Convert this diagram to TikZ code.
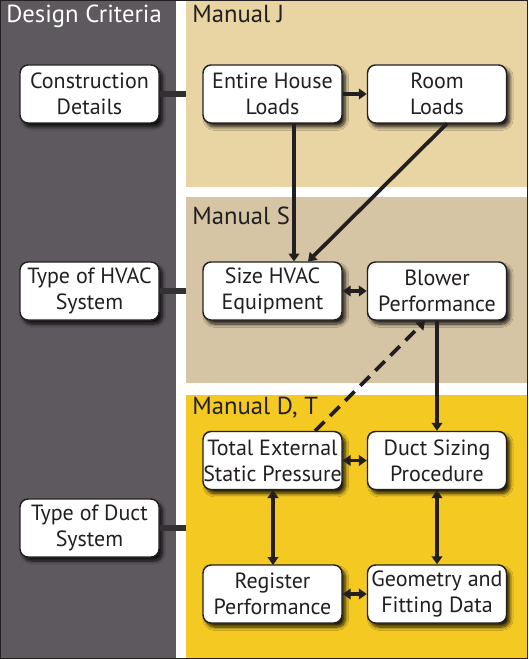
\documentclass[tikz,border=0pt]{standalone}
\usepackage{fontspec}
\setmainfont{PT Sans}
\usetikzlibrary{arrows.meta,shadows.blur}
\definecolor{critgray}{HTML}{5E595E}
\definecolor{panelJ}{HTML}{E9D5A3}
\definecolor{panelS}{HTML}{D5C5A5}
\definecolor{panelD}{HTML}{F3C922}
\definecolor{ink}{HTML}{231F20}
\definecolor{stubc}{HTML}{333033}
\tikzset{
  box/.style={draw=ink, line width=1.1pt, fill=white, rounded corners=6pt,
    minimum width=104.25pt, minimum height=43.5pt, inner sep=0pt,
    align=center, text=ink,
    font=\fontsize{16.5}{19.5}\selectfont,
    blur shadow={shadow xshift=2.5pt, shadow yshift=-3pt, shadow blur steps=8, shadow blur radius=2.5pt, shadow opacity=85}},
  panel/.style={inner sep=0pt, outer sep=0pt, anchor=north west},
  stub/.style={draw=stubc, line width=4.5pt},
  tip/.tip={Triangle[length=6pt,width=8pt]},
  arr/.style={draw=ink, line width=2.8pt, -tip},
  darr/.style={draw=ink, line width=2.8pt, tip-tip},
  ttl/.style={anchor=base west, inner sep=0pt, font=\fontsize{18.5}{22}\selectfont}
}
\begin{document}
\begin{tikzpicture}[x=0.75pt,y=-0.75pt]
\useasboundingbox (0,0) rectangle (528,659);
% background
\fill[white] (0,0) rectangle (528,659);
\fill[critgray] (0,0) rectangle (176,659);
\node[panel, fill=panelJ, minimum width=255.75pt, minimum height=140.25pt] (pJ) at (186,0) {};
\node[panel, fill=panelS, minimum width=255.75pt, minimum height=139.5pt] (pS) at (186,197) {};
\node[panel, fill=panelD, minimum width=255.75pt, minimum height=198pt] (pD) at (186,395) {};
\draw[ink, line width=1.4pt] (0.5,0.5) rectangle (527.5,658.5);
% titles
\node[ttl, text=white] (tC) at (6,23) {Design Criteria};
\node[ttl, text=ink] (tJ) at (192,23) {Manual J};
\node[ttl, text=ink] (tS) at (192,224) {Manual S};
\node[ttl, text=ink] (tD) at (192,414) {Manual D, T};
% boxes
\node[box] (cd) at (89.5,94) {Construction\\Details};
\node[box] (eh) at (272.5,94) {Entire House\\Loads};
\node[box] (rl) at (437,94) {Room\\Loads};
\node[box] (th) at (89.5,291) {Type of HVAC\\System};
\node[box] (sh) at (272.5,291) {Size HVAC\\Equipment};
\node[box] (bp) at (437,291) {Blower\\Performance};
\node[box] (te) at (272.5,460.5) {Total External\\Static Pressure};
\node[box] (ds) at (437,460.5) {Duct Sizing\\Procedure};
\node[box] (td) at (89.5,528) {Type of Duct\\System};
\node[box] (rp) at (272.5,594) {Register\\Performance};
\node[box] (gf) at (437,594) {Geometry and\\Fitting Data};
% stubs
\coordinate (sJ) at (cd.east -| pJ.west);
\coordinate (sS) at (th.east -| pS.west);
\coordinate (sD) at (td.east -| pD.west);
\draw[stub] (cd.east) -- (sJ);
\draw[stub] (th.east) -- (sS);
\draw[stub] (td.east) -- (sD);
% arrows
\draw[arr] (eh.east) -- (rl.west);
\coordinate (ehb) at (294,123.5);
\coordinate (sht1) at (294,261.5);
\draw[arr] (ehb) -- (sht1);
\coordinate (rlb) at (447,123.5);
\coordinate (sht2) at (308,261.5);
\draw[arr] (rlb) -- (sht2);
\draw[darr] (sh.east) -- (bp.west);
\coordinate (teT) at (315,431);
\coordinate (bpB) at (425,321);
\draw[arr, dash pattern=on 10pt off 6pt] (teT) -- (bpB);
\draw[arr] (bp.south) -- (ds.north);
\draw[darr] (te.east) -- (ds.west);
\coordinate (teB) at (273,490);
\coordinate (rpT) at (273,565);
\draw[darr] (teB) -- (rpT);
\draw[darr] (ds.south) -- (gf.north);
\draw[darr] (rp.east) -- (gf.west);
\end{tikzpicture}
\end{document}
